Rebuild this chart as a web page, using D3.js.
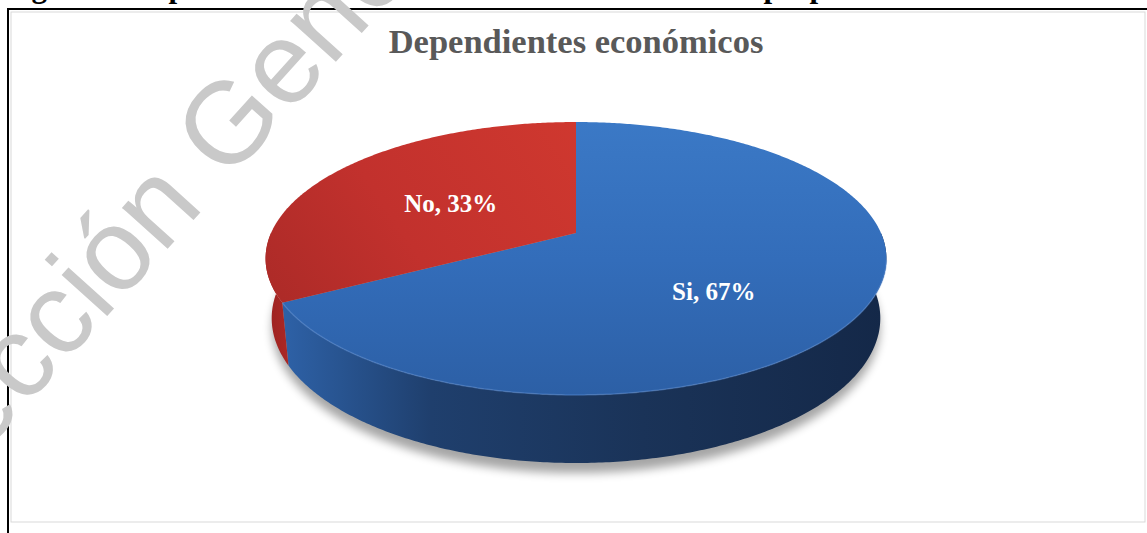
<!DOCTYPE html>
<html><head><meta charset="utf-8">
<script src="https://cdn.jsdelivr.net/npm/d3@7"></script>
<style>html,body{margin:0;padding:0;background:#fff;}svg{display:block;}</style>
</head><body>
<svg id="c" width="1147" height="533"></svg>
<script>
// ---- data ----
const categories = ["Si", "No"];
const values = [67, 33];
const chartTitle = "Dependientes económicos";
const captionText = "Figura 8. Dependientes económicos. Fuente: Elaboración propia";
const watermarkText = "Dirección General de Bibliotecas";

const svg = d3.select("#c");
const W = 1147, H = 533;
svg.append("rect").attr("width", W).attr("height", H).attr("fill", "#fff");

const defs = svg.append("defs");
function lin(id, x1, y1, x2, y2, stops) {
  const g = defs.append("linearGradient").attr("id", id).attr("gradientUnits", "userSpaceOnUse")
    .attr("x1", x1).attr("y1", y1).attr("x2", x2).attr("y2", y2);
  stops.forEach(s => g.append("stop").attr("offset", s[0]).attr("stop-color", s[1]));
}
lin("blueTop", 0, 120, 0, 400, [[0, "#3b79c6"], [0.5, "#336dba"], [1, "#2c5fa5"]]);
lin("redTop", 576, 120, 290, 310, [[0, "#cf382f"], [0.6, "#c2312d"], [1, "#ae2b28"]]);
lin("blueSide", 280, 0, 885, 0, [[0, "#2e62a8"], [0.25, "#1f3f6d"], [0.6, "#1a3358"], [1, "#142848"]]);
lin("redSide", 265, 0, 295, 0, [[0, "#9a211f"], [1, "#b02a27"]]);
const blur = defs.append("filter").attr("id", "sh").attr("x", "-20%").attr("y", "-20%").attr("width", "140%").attr("height", "140%");
blur.append("feGaussianBlur").attr("stdDeviation", 5);

// ---- frame ----
svg.append("rect").attr("x", 11).attr("y", 12).attr("width", 1134).attr("height", 510)
  .attr("fill", "#fff").attr("stroke", "#d9d9d9").attr("stroke-width", 1);
svg.append("line").attr("x1", 7).attr("x2", W).attr("y1", 9).attr("y2", 9).attr("stroke", "#000").attr("stroke-width", 2);
svg.append("line").attr("x1", 8).attr("x2", 8).attr("y1", 9).attr("y2", H).attr("stroke", "#000").attr("stroke-width", 2);

// caption (cut off at the top)
svg.append("text").attr("x", 4).attr("y", -3)
  .attr("font-family", "'Liberation Serif','Times New Roman',serif").attr("font-weight", "bold")
  .attr("font-size", 31).attr("fill", "#000").text(captionText);

// title
svg.append("text").attr("x", 576).attr("y", 53).attr("text-anchor", "middle")
  .attr("font-family", "'Liberation Serif','Times New Roman',serif").attr("font-weight", "bold")
  .attr("font-size", 34.5).attr("fill", "#595959").text(chartTitle);

// ---- 3D pie projection ----
const cx = 576, cy = 233, f = 1473, D = 4.83;
const sA = 0.4319, cA = 0.902, h = 0.2174;
function proj(theta, Y, k = 1) {
  const X = k * Math.sin(theta), Z = k * Math.cos(theta);
  const yup = Z * sA + Y * cA;
  const depth = D + Z * cA - Y * sA;
  return [cx + f * X / depth, cy - f * yup / depth];
}
function arcPts(a0, a1, Y) {
  const n = Math.max(2, Math.ceil((a1 - a0) / 0.01));
  return d3.range(n + 1).map(i => proj(a0 + (a1 - a0) * i / n, Y));
}
const line = d3.line();
const pie = d3.pie().sort(null).value(d => d)(values);
const topFill = ["url(#blueTop)", "url(#redTop)"];
const sideFill = ["url(#blueSide)", "url(#redSide)"];

// shadow
const bottom = arcPts(0, 2 * Math.PI, -h - 0.02).map(p => [p[0], p[1] + 4]);
svg.append("path").attr("d", line(bottom) + "Z").attr("fill", "#000").attr("opacity", 0.35).attr("filter", "url(#sh)");

// side walls (front-facing portion)
pie.forEach((d, i) => {
  const a0 = Math.max(d.startAngle, Math.PI / 2), a1 = Math.min(d.endAngle, 3 * Math.PI / 2);
  if (a1 <= a0) return;
  const top = arcPts(a0, a1, 0), bot = arcPts(a0, a1, -h).reverse();
  svg.append("path").attr("d", line(top.concat(bot)) + "Z").attr("fill", sideFill[i]);
});
// top faces
pie.forEach((d, i) => {
  const pts = [proj(0, 0, 0)].concat(arcPts(d.startAngle, d.endAngle, 0));
  svg.append("path").attr("d", line(pts) + "Z").attr("fill", topFill[i]);
});
// front rim highlight
svg.append("path").attr("d", line(arcPts(Math.PI / 2 + 0.2, pie[0].endAngle, 0)))
  .attr("fill", "none").attr("stroke", "#5b8fd6").attr("stroke-opacity", 0.45).attr("stroke-width", 1.5);

// labels
pie.forEach((d, i) => {
  const mid = (d.startAngle + d.endAngle) / 2;
  const p = proj(mid, 0, 0.5);
  svg.append("text").attr("x", p[0]).attr("y", p[1] + 12.5 - 20.6 * Math.cos(mid))
    .attr("text-anchor", "middle").attr("dominant-baseline", "central")
    .attr("font-family", "'Liberation Serif','Times New Roman',serif").attr("font-weight", "bold")
    .attr("font-size", 25).attr("fill", "#fff")
    .text(categories[i] + ", " + values[i] + "%");
});

// watermark
svg.append("text").attr("transform", "translate(-118,566) rotate(-48)")
  .attr("font-family", "'Liberation Sans',Arial,sans-serif").attr("font-size", 116)
  .attr("fill", "#c9c9c9").text(watermarkText);
</script>
</body></html>
